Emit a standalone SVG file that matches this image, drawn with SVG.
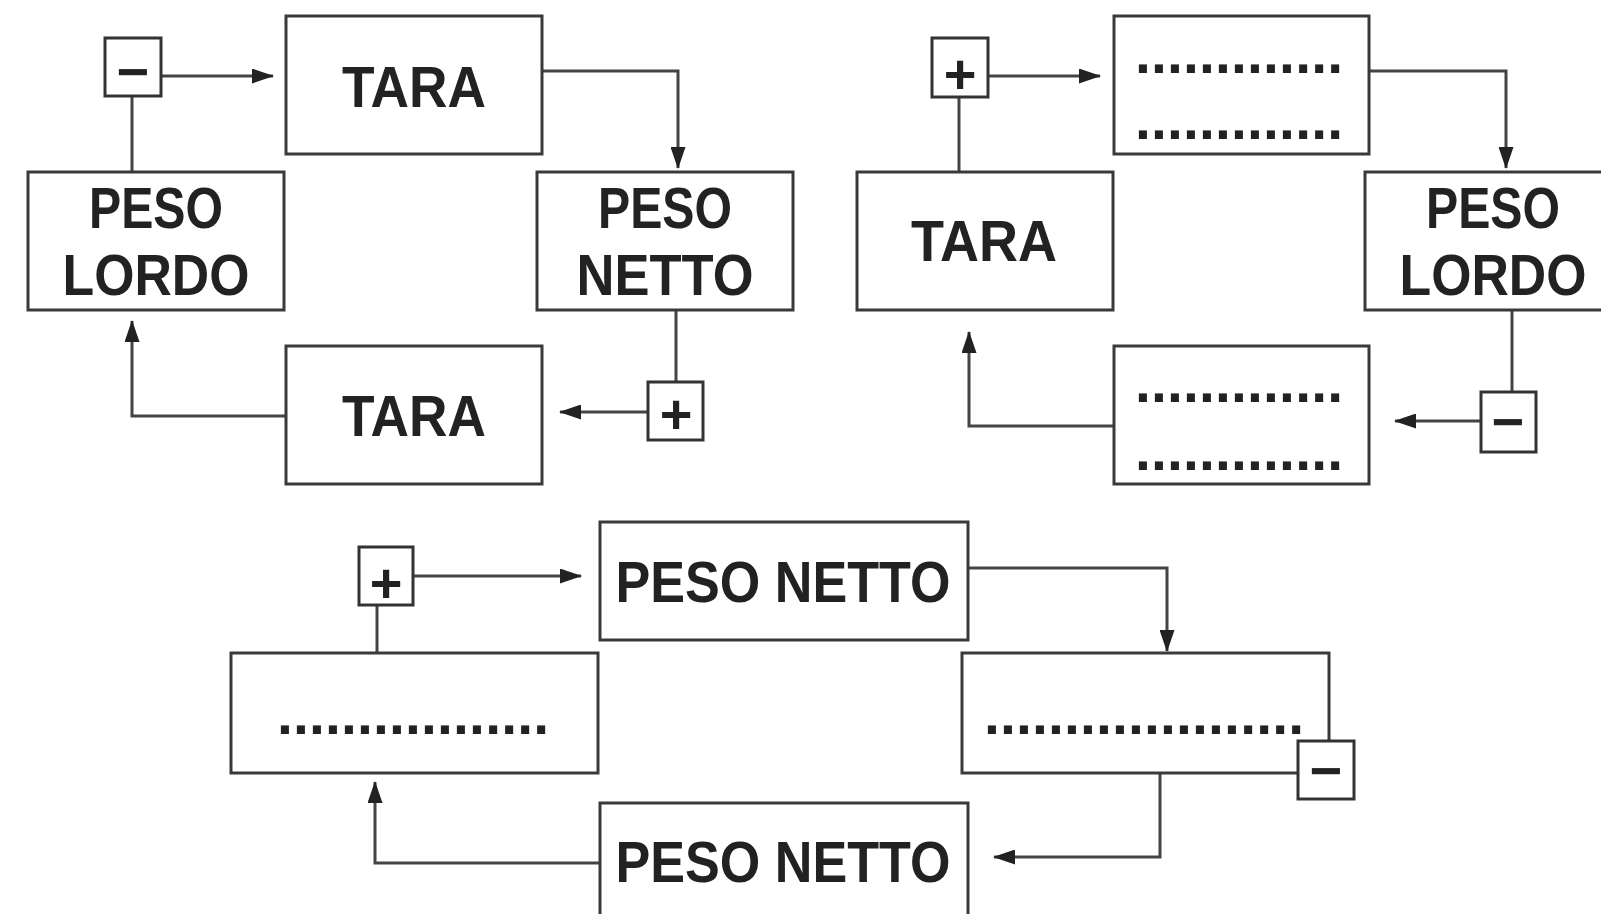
<svg xmlns="http://www.w3.org/2000/svg" width="1601" height="914" viewBox="0 0 1601 914">
<defs>
<style>
.box{fill:#fff;stroke:#3a3a3a;stroke-width:3}
.sbox{fill:#fff;stroke:#333;stroke-width:3}
.lbl{font-family:"Liberation Sans",Arial,sans-serif;font-weight:bold;font-size:57px;fill:#222;text-anchor:middle}
.sym{font-family:"Liberation Sans",Arial,sans-serif;font-weight:bold;font-size:56px;fill:#222;text-anchor:middle}
.dots{font-family:"Liberation Sans",Arial,sans-serif;font-weight:bold;font-size:57px;fill:#222}
.ln{fill:none;stroke:#444;stroke-width:3}
.ar{fill:none;stroke:#444;stroke-width:3;marker-end:url(#ah)}
</style>
<marker id="ah" markerUnits="userSpaceOnUse" markerWidth="22" markerHeight="15" viewBox="0 0 22 15" refX="21" refY="7.5" orient="auto">
<path d="M0,0 L22,7.5 L0,15 z" fill="#222"/>
</marker>
</defs>
<rect width="1601" height="914" fill="#fff"/>

<g id="connectors">
<path class="ln" d="M132,172 V96"/>
<path class="ar" d="M161,76 H273"/>
<path class="ar" d="M542,71 H678 V168"/>
<path class="ln" d="M676,310 V382"/>
<path class="ar" d="M648,412 H560"/>
<path class="ar" d="M286,416 H132 V321"/>

<path class="ln" d="M959,172 V97"/>
<path class="ar" d="M988,76 H1100"/>
<path class="ar" d="M1369,71 H1506 V168"/>
<path class="ln" d="M1512,310 V392"/>
<path class="ar" d="M1481,421 H1395"/>
<path class="ar" d="M1114,426 H969 V332"/>

<path class="ln" d="M377,653 V605"/>
<path class="ar" d="M413,576 H581"/>
<path class="ar" d="M968,568 H1167 V651"/>
<path class="ar" d="M1160,773 V857 H994"/>
<path class="ar" d="M600,863 H375 V782"/>
</g>

<g id="n-minus1"><rect class="sbox" x="105" y="38" width="56" height="58"/><text class="sym" x="133" y="91">−</text></g>
<g id="n-tara1"><rect class="box" x="286" y="16" width="256" height="138"/><text class="lbl" x="414" y="107" textLength="144" lengthAdjust="spacingAndGlyphs">TARA</text></g>
<g id="n-lordo1"><rect class="box" x="28" y="172" width="256" height="138"/><text class="lbl" x="156" y="228" textLength="134" lengthAdjust="spacingAndGlyphs">PESO</text><text class="lbl" x="156" y="295" textLength="187" lengthAdjust="spacingAndGlyphs">LORDO</text></g>
<g id="n-netto1"><rect class="box" x="537" y="172" width="256" height="138"/><text class="lbl" x="665" y="228" textLength="134" lengthAdjust="spacingAndGlyphs">PESO</text><text class="lbl" x="665" y="295" textLength="177" lengthAdjust="spacingAndGlyphs">NETTO</text></g>
<g id="n-tara2"><rect class="box" x="286" y="346" width="256" height="138"/><text class="lbl" x="414" y="436" textLength="144" lengthAdjust="spacingAndGlyphs">TARA</text></g>
<g id="n-plus1"><rect class="sbox" x="648" y="382" width="55" height="58"/><text class="sym" x="676" y="433">+</text></g>

<g id="n-plus2"><rect class="sbox" x="932" y="38" width="56" height="59"/><text class="sym" x="960" y="93">+</text></g>
<g id="n-dots1"><rect class="box" x="1114" y="16" width="255" height="138"/><text class="dots" x="1135" y="73" textLength="208" lengthAdjust="spacing">.............</text><text class="dots" x="1135" y="139" textLength="208" lengthAdjust="spacing">.............</text></g>
<g id="n-tara3"><rect class="box" x="857" y="172" width="256" height="138"/><text class="lbl" x="984" y="261" textLength="146" lengthAdjust="spacingAndGlyphs">TARA</text></g>
<g id="n-lordo2"><rect class="box" x="1365" y="172" width="256" height="138"/><text class="lbl" x="1493" y="228" textLength="134" lengthAdjust="spacingAndGlyphs">PESO</text><text class="lbl" x="1493" y="295" textLength="187" lengthAdjust="spacingAndGlyphs">LORDO</text></g>
<g id="n-dots2"><rect class="box" x="1114" y="346" width="255" height="138"/><text class="dots" x="1135" y="402" textLength="208" lengthAdjust="spacing">.............</text><text class="dots" x="1135" y="470" textLength="208" lengthAdjust="spacing">.............</text></g>
<g id="n-minus2"><rect class="sbox" x="1481" y="392" width="55" height="60"/><text class="sym" x="1508" y="441">−</text></g>

<g id="n-plus3"><rect class="sbox" x="359" y="547" width="54" height="58"/><text class="sym" x="386" y="602">+</text></g>
<g id="n-netto2"><rect class="box" x="600" y="522" width="368" height="118"/><text class="lbl" x="783" y="602" textLength="335" lengthAdjust="spacingAndGlyphs">PESO NETTO</text></g>
<g id="n-dots3"><rect class="box" x="231" y="653" width="367" height="120"/><text class="dots" x="277" y="734" textLength="272" lengthAdjust="spacing">.................</text></g>
<g id="n-dots4"><rect class="box" x="962" y="653" width="367" height="120"/><text class="dots" x="984" y="734" textLength="320" lengthAdjust="spacing">....................</text></g>
<g id="n-minus3"><rect class="sbox" x="1298" y="741" width="56" height="58"/><text class="sym" x="1326" y="790">−</text></g>
<g id="n-netto3"><rect class="box" x="600" y="803" width="368" height="140"/><text class="lbl" x="783" y="882" textLength="335" lengthAdjust="spacingAndGlyphs">PESO NETTO</text></g>
</svg>
